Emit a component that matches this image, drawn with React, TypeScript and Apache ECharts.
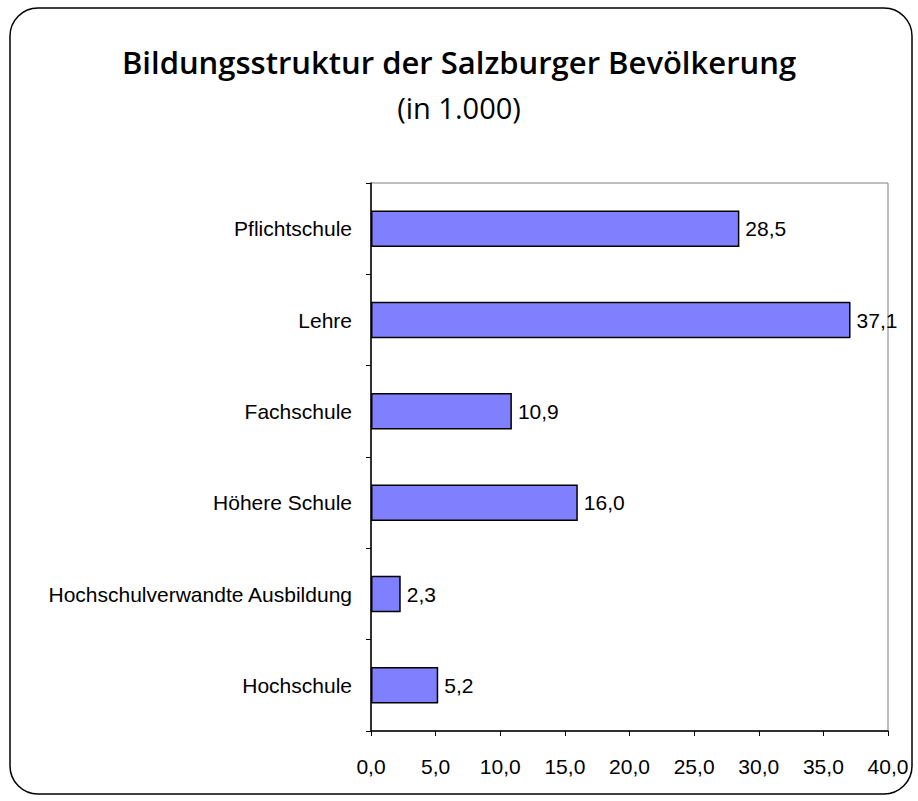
import React, { useEffect, useRef } from "react";
import * as echarts from "echarts";

const categories = [
  "Pflichtschule",
  "Lehre",
  "Fachschule",
  "Höhere Schule",
  "Hochschulverwandte Ausbildung",
  "Hochschule",
];
const values = [28.5, 37.1, 10.9, 16.0, 2.3, 5.2];
const titleText = "Bildungsstruktur der Salzburger Bevölkerung";
const subtitleText = "(in 1.000)";

const fmt = (v: number) => v.toFixed(1).replace(".", ",");

export default function App() {
  const ref = useRef<HTMLDivElement>(null);
  useEffect(() => {
    if (!ref.current) return;
    const chart = echarts.init(ref.current, undefined, { renderer: "svg" });
    chart.setOption({
      animation: false,
      backgroundColor: "#ffffff",
      title: [
        {
          text: titleText,
          left: "center",
          top: 41,
          textStyle: {
            fontFamily: "Open Sans",
            fontWeight: 600,
            fontSize: 31,
            color: "#000",
          },
        },
        {
          text: subtitleText,
          left: "center",
          top: 88,
          textStyle: {
            fontFamily: "Open Sans",
            fontWeight: "normal",
            fontSize: 29,
            color: "#000",
          },
        },
      ],
      graphic: [
        {
          type: "rect",
          shape: { x: 10, y: 8, width: 902, height: 786, r: 28 },
          style: { fill: "none", stroke: "#000", lineWidth: 1.5 },
          z: 100,
        },
      ],
      grid: {
        left: 371,
        right: 30,
        top: 183,
        bottom: 70,
        show: true,
        borderColor: "#808080",
        borderWidth: 1,
        backgroundColor: "transparent",
      },
      xAxis: {
        type: "value",
        min: 0,
        max: 40,
        interval: 5,
        splitLine: { show: false },
        axisLine: { show: true, lineStyle: { color: "#000", width: 1.5 } },
        axisTick: { show: true, length: 5, lineStyle: { color: "#000" } },
        axisLabel: {
          formatter: (v: number) => fmt(v),
          fontFamily: "Liberation Sans",
          fontSize: 21,
          color: "#000",
          margin: 25,
        },
      },
      yAxis: {
        type: "category",
        data: categories,
        inverse: true,
        axisLine: { show: true, lineStyle: { color: "#000", width: 1.5 } },
        axisTick: { show: true, length: 5, alignWithLabel: false, lineStyle: { color: "#000" } },
        axisLabel: {
          fontFamily: "Liberation Sans",
          fontSize: 21,
          color: "#000",
          margin: 19,
        },
      },
      series: [
        {
          type: "bar",
          data: values,
          barWidth: "40%",
          itemStyle: { color: "#8080FF", borderColor: "#000", borderWidth: 1.5 },
          label: {
            show: true,
            position: "right",
            distance: 6,
            formatter: (p: any) => fmt(p.value),
            fontFamily: "Liberation Sans",
            fontSize: 21,
            color: "#000",
          },
        },
      ],
    });
    return () => chart.dispose();
  }, []);
  return (
    <div
      ref={ref}
      style={{ position: "fixed", left: 0, top: 0, width: 918, height: 801 }}
    />
  );
}
